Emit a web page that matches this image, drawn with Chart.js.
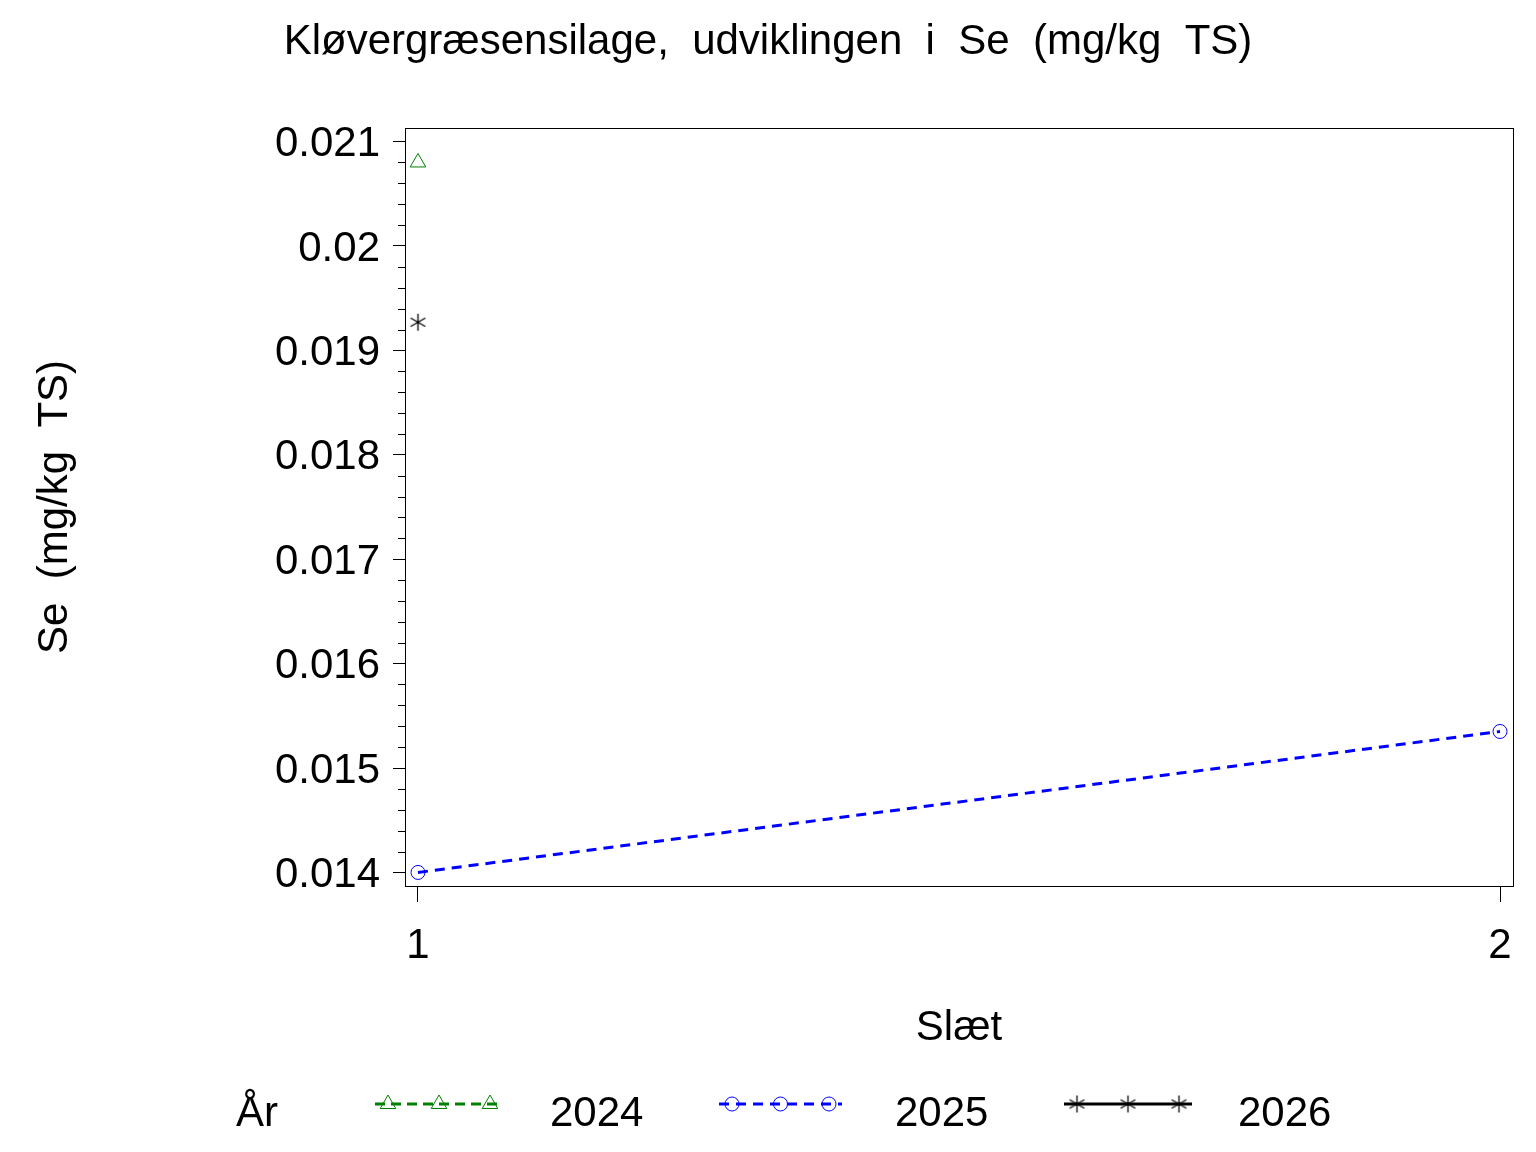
<!DOCTYPE html>
<html>
<head>
<meta charset="utf-8">
<script src="https://cdn.jsdelivr.net/npm/chart.js@4.4.1/dist/chart.umd.min.js"></script>
<style>
  html, body { margin: 0; padding: 0; background: #fff; }
  canvas { display: block; }
</style>
</head>
<body>
<canvas id="seChart" width="1536" height="1152"></canvas>
<script>
// data
const slaet = [1, 2];
const se2024 = [0.0208, null];
const se2025 = [0.01400, 0.01535];
const se2026 = [0.01927, null];
const years = ["2024", "2025", "2026"];
const yMajorTicks = [0.014, 0.015, 0.016, 0.017, 0.018, 0.019, 0.02, 0.021];
const xTicks = [1, 2];

const FONT = "'Liberation Sans', Arial, Helvetica, sans-serif";
const FS = 42;
const GREEN = "#008000";
const BLUE = "#0000ff";

// asterisk marker (vertical + two diagonals)
function makeStar(size, color) {
  const c = document.createElement("canvas");
  c.width = size; c.height = size;
  const g = c.getContext("2d");
  const m = size / 2, r = size / 2 - 1;
  g.strokeStyle = color;
  g.lineWidth = 1.3;
  g.beginPath();
  g.moveTo(m, m - r); g.lineTo(m, m + r);
  const dx = r * Math.cos(Math.PI / 6), dy = r * Math.sin(Math.PI / 6);
  g.moveTo(m - dx, m - dy); g.lineTo(m + dx, m + dy);
  g.moveTo(m - dx, m + dy); g.lineTo(m + dx, m - dy);
  g.stroke();
  return c;
}
const starMark = makeStar(19, "#000");

const toPoints = (vals) => slaet.map((x, i) => ({ x, y: vals[i] })).filter(p => p.y !== null);
const isMajor = (v) => yMajorTicks.some(t => Math.abs(t - v) < 1e-7);

const seriesStyle = [
  { color: GREEN, dash: [10, 6], point: "triangle", radius: 9, width: 3 },
  { color: BLUE, dash: [10, 7], point: "circle", radius: 7, width: 3 },
  { color: "#000", dash: [], point: starMark, radius: 9, width: 3 },
];

const extras = {
  id: "extras",
  beforeDatasetsDraw(chart) {
    const { ctx, chartArea: a, scales: { y } } = chart;
    ctx.save();
    ctx.strokeStyle = "#000";
    ctx.lineWidth = 1;
    ctx.strokeRect(a.left + 0.5, a.top + 0.5, a.right - a.left, a.bottom - a.top);
    // minor ticks
    ctx.beginPath();
    for (let k = 0; k <= 35; k++) {
      const v = 0.014 + k * 0.0002;
      if (isMajor(v)) continue;
      const py = Math.round(y.getPixelForValue(v)) + 0.5;
      ctx.moveTo(a.left - 7, py);
      ctx.lineTo(a.left, py);
    }
    ctx.stroke();
    ctx.restore();
  },
  afterDraw(chart) {
    const { ctx } = chart;
    ctx.save();
    ctx.fillStyle = "#000";
    ctx.font = FS + "px " + FONT;
    ctx.textAlign = "center";
    ctx.textBaseline = "alphabetic";
    ctx.fillText("Kløvergræsensilage,  udviklingen  i  Se  (mg/kg  TS)", 768, 54);

    // legend
    const ly = 1104;
    ctx.textAlign = "left";
    ctx.fillText("År", 236, 1126);
    const entries = [
      { x0: 375, x1: 503, tx: 550 },
      { x0: 719, x1: 842, tx: 895 },
      { x0: 1064, x1: 1192, tx: 1238 },
    ];
    entries.forEach((e, i) => {
      const s = seriesStyle[i];
      ctx.strokeStyle = s.color;
      ctx.lineWidth = s.width;
      ctx.setLineDash(s.dash);
      ctx.beginPath();
      ctx.moveTo(e.x0, ly);
      ctx.lineTo(e.x1, ly);
      ctx.stroke();
      ctx.setLineDash([]);
      ctx.lineWidth = 1;
      ctx.fillStyle = "rgba(0,0,0,0)";
      const step = (e.x1 - e.x0 - 26) / 2;
      for (let j = 0; j < 3; j++) {
        const px = e.x0 + 13 + j * step;
        Chart.helpers.drawPoint(ctx, { pointStyle: s.point, radius: s.radius, borderWidth: 1, rotation: 0 }, px, ly);
      }
      ctx.fillStyle = "#000";
      ctx.fillText(years[i], e.tx, 1126);
    });
    ctx.restore();
  },
};

const datasets = [se2024, se2025, se2026].map((vals, i) => ({
  label: years[i],
  data: toPoints(vals),
  borderColor: seriesStyle[i].color,
  backgroundColor: "rgba(0,0,0,0)",
  borderWidth: seriesStyle[i].width,
  borderDash: seriesStyle[i].dash,
  pointStyle: seriesStyle[i].point,
  pointRadius: seriesStyle[i].radius,
  pointBorderWidth: 1,
  pointBorderColor: seriesStyle[i].color,
  pointBackgroundColor: "rgba(0,0,0,0)",
  tension: 0,
  fill: false,
}));

new Chart(document.getElementById("seChart"), {
  type: "line",
  data: { datasets },
  options: {
    responsive: false,
    animation: false,
    devicePixelRatio: 1,
    layout: { padding: { left: 0, top: 128, right: 23, bottom: 0 } },
    plugins: { legend: { display: false }, tooltip: { enabled: false } },
    scales: {
      x: {
        type: "linear",
        min: 0.988,
        max: 2.012,
        afterFit: (s) => { s.height = 266; },
        afterBuildTicks: (s) => { s.ticks = xTicks.map(v => ({ value: v })); },
        border: { display: true, color: "#000", width: 1 },
        grid: { drawOnChartArea: false, drawTicks: true, tickLength: 16, color: "#000" },
        ticks: { color: "#000", font: { size: FS, family: FONT }, padding: 19, maxRotation: 0 },
        title: { display: true, text: "Slæt", color: "#000", font: { size: FS, family: FONT }, padding: { top: 98, bottom: 98 } },
      },
      y: {
        type: "linear",
        min: 0.01387,
        max: 0.02113,
        afterFit: (s) => { s.width = 405; },
        afterBuildTicks: (s) => {
          const t = [];
          for (let k = 0; k <= 35; k++) t.push({ value: 0.014 + k * 0.0002 });
          s.ticks = t;
        },
        border: { display: true, color: "#000", width: 1 },
        grid: {
          drawOnChartArea: false,
          drawTicks: true,
          tickLength: 12,
          color: (c) => (c.tick && isMajor(c.tick.value) ? "#000" : "rgba(0,0,0,0)"),
        },
        ticks: {
          color: "#000",
          font: { size: FS, family: FONT },
          padding: 13,
          labelOffset: 3,
          autoSkip: false,
          callback: (v) => {
            const t = yMajorTicks.find(m => Math.abs(m - v) < 1e-7);
            return t === undefined ? "" : String(t);
          },
        },
        title: { display: true, text: "Se  (mg/kg  TS)", color: "#000", font: { size: FS, family: FONT }, padding: { top: 30, bottom: 30 } },
      },
    },
  },
  plugins: [extras],
});
</script>
</body>
</html>
